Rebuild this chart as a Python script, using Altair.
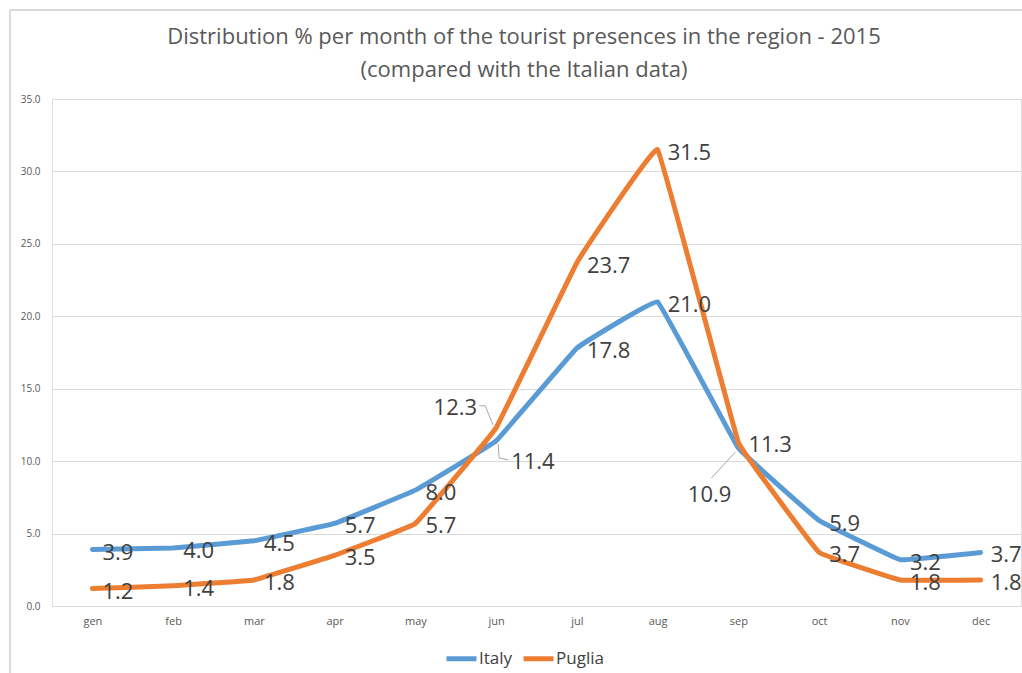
import altair as alt
import pandas as pd

months = ["gen", "feb", "mar", "apr", "may", "jun", "jul", "aug", "sep", "oct", "nov", "dec"]
italy = [3.9, 4.0, 4.5, 5.7, 8.0, 11.4, 17.8, 21.0, 10.9, 5.9, 3.2, 3.7]
puglia = [1.2, 1.4, 1.8, 3.5, 5.7, 12.3, 23.7, 31.5, 11.3, 3.7, 1.8, 1.8]
series_names = ["Italy", "Puglia"]
series_colors = ["#5B9BD5", "#ED7D31"]
y_ticks = [0, 5, 10, 15, 20, 25, 30, 35]
title_lines = [
    "Distribution % per month of the tourist presences in the region - 2015",
    "(compared with the Italian data)",
]

rows = []
for name, vals in zip(series_names, [italy, puglia]):
    for m, v in zip(months, vals):
        rows.append({"month": m, "series": name, "value": v})
df = pd.DataFrame(rows)

FONT = "Open Sans"
TXT = "#404040"

x_enc = alt.X("month:N", sort=months, title=None,
              scale=alt.Scale(type="point", padding=0.5),
              axis=alt.Axis(labelAngle=0, labelFontSize=11, labelColor="#595959",
                            labelFont=FONT, ticks=False, domainColor="#d9d9d9",
                            labelPadding=9, grid=False))
x_plain = alt.X("month:N", sort=months)
y_enc = alt.Y("value:Q", title=None,
              scale=alt.Scale(domain=[0, 35], nice=False, zero=True),
              axis=alt.Axis(values=y_ticks, format=".1f", labelFontSize=10,
                            labelColor="#595959", labelFont=FONT, ticks=False,
                            domain=False, gridColor="#d9d9d9", labelPadding=12))
color_enc = alt.Color("series:N",
                      scale=alt.Scale(domain=series_names, range=series_colors),
                      legend=alt.Legend(title=None, orient="none", direction="horizontal",
                                        legendX=392, legendY=542, symbolType="stroke",
                                        symbolStrokeWidth=5, symbolSize=900,
                                        labelFontSize=17, labelFont=FONT, labelColor=TXT,
                                        labelOffset=0, columnPadding=0))

base = alt.Chart(df)

frame = base.mark_rect(fill=None, stroke="#d9d9d9", strokeWidth=1).encode(
    x=alt.value(-42), x2=alt.value(1100), y=alt.value(-89), y2=alt.value(700)
)

title_df = pd.DataFrame({"line": title_lines, "row": [0, 1]})
title_marks = [
    alt.Chart(title_df).mark_text(fontSize=22, font=FONT, color="#595959",
                                  align="center", baseline="middle").encode(
        text="line:N", x=alt.value(472), y=alt.value(-62 + 33 * i)
    ).transform_filter(alt.datum.row == i)
    for i in range(len(title_lines))
]

lines = base.mark_line(strokeWidth=5, interpolate="cardinal", tension=0.85,
                       strokeCap="round", strokeJoin="round").encode(
    x=x_enc, y=y_enc, color=color_enc
)

exceptions = [
    ("jun", "Puglia", dict(align="right", dx=-19, dy=-20)),
    ("jun", "Italy", dict(align="left", dx=15, dy=21)),
    ("sep", "Italy", dict(align="right", dx=-7, dy=47)),
]

def cond(m, s):
    return (alt.datum.month == m) & (alt.datum.series == s)

not_exc = ~(cond("jun", "Puglia") | cond("jun", "Italy") | cond("sep", "Italy"))

text_common = dict(fontSize=22, font=FONT, color=TXT, baseline="middle")
labels = [
    base.mark_text(align="left", dx=10, dy=3, **text_common).encode(
        x=x_plain, y="value:Q", text=alt.Text("value:Q", format=".1f")
    ).transform_filter(not_exc)
]
for m, s, kw in exceptions:
    labels.append(
        base.mark_text(**kw, **text_common).encode(
            x=x_plain, y="value:Q", text=alt.Text("value:Q", format=".1f")
        ).transform_filter(cond(m, s))
    )

leaders_spec = [
    ("jun", "Puglia", (-17, -22), (-11, -22)),
    ("jun", "Puglia", (-11, -22), (-3, -3)),
    ("jun", "Italy", (2, 3), (3, 17)),
    ("jun", "Italy", (3, 17), (12, 19)),
    ("sep", "Italy", (-3, 4), (-27, 30)),
]
leaders = []
for m, s, (ax, ay), (bx, by) in leaders_spec:
    leaders.append(
        base.mark_rule(color="#a6a6a6", strokeWidth=1, xOffset=ax, yOffset=ay,
                       x2Offset=bx, y2Offset=by).encode(
            x=x_plain, y="value:Q", x2=alt.X2("month:N"), y2=alt.Y2("value:Q")
        ).transform_filter(cond(m, s))
    )

chart = alt.layer(frame, *title_marks, lines, *leaders, *labels).properties(
    width=969, height=507,
    padding={"left": 52, "top": 99, "right": 1, "bottom": 67},
    autosize=alt.AutoSizeParams(type="none"),
).configure_view(stroke=None).configure(background="white")

chart.save("out.html", embed_options={"renderer": "svg", "actions": False})
